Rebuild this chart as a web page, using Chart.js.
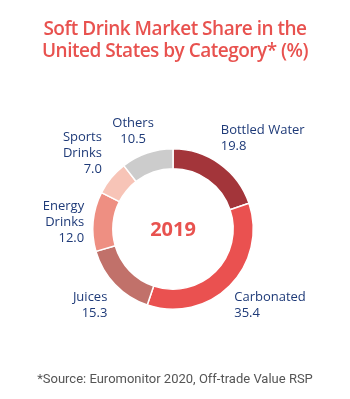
<!DOCTYPE html>
<html>
<head>
<meta charset="utf-8">
<script src="https://cdn.jsdelivr.net/npm/chart.js@4.4.1/dist/chart.umd.min.js"></script>
<style>
  html, body { margin: 0; padding: 0; background: #ffffff; }
  #wrap { position: relative; width: 350px; height: 399px; overflow: hidden; }
  #title {
    position: absolute; left: 0; top: 17px; width: 350px; text-align: center;
    font-family: "Open Sans", sans-serif; font-weight: 600; font-size: 19px;
    line-height: 22px; color: #e8524f; letter-spacing: -0.5px;
  }
  #source {
    position: absolute; left: 0; top: 371px; width: 350px; text-align: center;
    font-family: Roboto, sans-serif; font-size: 13px; color: #555555;
  }
  #chart { position: absolute; left: 0; top: 0; }
</style>
</head>
<body>
<div id="wrap">
  <canvas id="chart" width="350" height="399"></canvas>
  <div id="title">Soft Drink Market Share in the<br>United States by Category* (%)</div>
  <div id="source">*Source: Euromonitor 2020, Off-trade Value RSP</div>
</div>
<script>
const categories = [["Bottled Water"], ["Carbonated"], ["Juices"], ["Energy", "Drinks"], ["Sports", "Drinks"], ["Others"]];
const shares = [19.8, 35.4, 15.3, 12.0, 7.0, 10.5];
const sliceColors = ["#a3353a", "#ea5150", "#c1716a", "#ee8f82", "#f7c4b7", "#cccccc"];
const centerLabel = "2019";

// small hand nudges so labels sit where the original put them
const labelNudge = [[-6, 2], [-4, -3], [1, -2], [3, 3], [0, 9], [-10, 7]];

const LABEL_COLOR = "#1e3a78";
const LABEL_FONT = "13px 'Open Sans', sans-serif";
const LINE_HEIGHT = 16;

const sliceLabels = {
  id: "sliceLabels",
  afterDraw(chart) {
    const ctx = chart.ctx;
    const meta = chart.getDatasetMeta(0);
    ctx.save();
    ctx.font = LABEL_FONT;
    ctx.fillStyle = LABEL_COLOR;
    meta.data.forEach((arc, i) => {
      const mid = (arc.startAngle + arc.endAngle) / 2;
      const r = arc.outerRadius + 12;
      const x = arc.x + Math.cos(mid) * r + labelNudge[i][0];
      const y = arc.y + Math.sin(mid) * r + labelNudge[i][1];
      const lines = [...categories[i], shares[i].toFixed(1)];
      const sx = Math.cos(mid), sy = Math.sin(mid);
      ctx.textAlign = Math.abs(sx) < 0.35 ? "center" : sx > 0 ? "left" : "right";
      let top;
      if (sy < -0.3) top = y - lines.length * LINE_HEIGHT;
      else if (sy > 0.3) top = y;
      else top = y - (lines.length * LINE_HEIGHT) / 2;
      ctx.textBaseline = "top";
      lines.forEach((line, k) => ctx.fillText(line, x, top + k * LINE_HEIGHT));
    });
    ctx.font = "bold 20px 'Open Sans', sans-serif";
    ctx.fillStyle = "#e8524f";
    ctx.textAlign = "center";
    ctx.textBaseline = "middle";
    const a = meta.data[0];
    ctx.fillText(centerLabel, a.x, a.y + 1);
    ctx.restore();
  },
};

new Chart(document.getElementById("chart"), {
  type: "doughnut",
  data: {
    labels: categories.map((c) => c.join(" ")),
    datasets: [{
      data: shares,
      backgroundColor: sliceColors,
      borderColor: "#ffffff",
      borderWidth: 1.5,
      hoverOffset: 0,
    }],
  },
  options: {
    responsive: false,
    animation: false,
    cutout: "75%",
    layout: { padding: { left: 92, right: 96, top: 148, bottom: 89 } },
    plugins: {
      legend: { display: false },
      tooltip: { enabled: false },
    },
  },
  plugins: [sliceLabels],
});
</script>
</body>
</html>
